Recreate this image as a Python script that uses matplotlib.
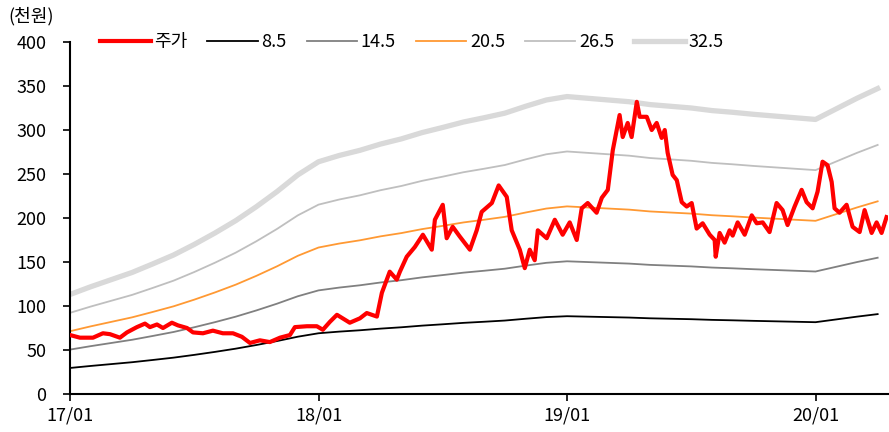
import numpy as np
import matplotlib.pyplot as plt

plt.rcParams['font.family'] = ['Noto Sans CJK KR', 'DejaVu Sans']

# months since 2017-01 (monthly forward EPS, 천원)
eps_month = np.arange(40)
eps = [3.48, 3.75, 4.00, 4.25, 4.55, 4.86, 5.23, 5.63, 6.06, 6.55,
       7.08, 7.66, 8.12, 8.34, 8.52, 8.74, 8.92, 9.14, 9.32, 9.51,
       9.66, 9.82, 10.06, 10.28, 10.40, 10.34, 10.28, 10.22, 10.12, 10.06,
       10.00, 9.91, 9.85, 9.78, 9.72, 9.66, 9.60, 9.97, 10.34, 10.68]

per_multiples = [8.5, 14.5, 20.5, 26.5, 32.5]
band_colors = ['#000000', '#808080', '#FF9933', '#BFBFBF', '#D9D9D9']
band_widths = [1.3, 1.3, 1.3, 1.3, 3.8]

# stock price (천원), time in months since 2017-01
price_t = [0.00, 0.48, 1.11, 1.59, 1.93, 2.41, 2.75, 3.23, 3.62, 3.86,
           4.20, 4.49, 4.92, 5.21, 5.65, 5.94, 6.42, 6.90, 7.38, 7.87,
           8.30, 8.69, 9.17, 9.65, 10.14, 10.62, 10.86, 11.44, 11.92, 12.21,
           12.55, 12.89, 13.51, 14.00, 14.33, 14.82, 15.06, 15.44, 15.78, 15.93,
           16.26, 16.65, 17.04, 17.47, 17.62, 18.00, 18.19, 18.48, 18.82, 19.31,
           19.64, 19.88, 20.37, 20.70, 21.09, 21.33, 21.72, 21.96, 22.20, 22.44,
           22.59, 23.02, 23.41, 23.79, 24.13, 24.47, 24.71, 25.00, 25.43, 25.68,
           25.97, 26.21, 26.54, 26.69, 26.93, 27.12, 27.37, 27.51, 27.85, 28.09,
           28.33, 28.57, 28.72, 28.86, 29.10, 29.30, 29.54, 29.78, 30.02, 30.26,
           30.55, 30.89, 31.13, 31.18, 31.37, 31.61, 31.85, 32.00, 32.24, 32.58,
           32.92, 33.16, 33.45, 33.78, 34.12, 34.41, 34.65, 34.99, 35.33, 35.57,
           35.86, 36.10, 36.34, 36.58, 36.78, 36.92, 37.16, 37.50, 37.79, 38.13,
           38.37, 38.71, 38.95, 39.19, 39.43]
price = [67, 64, 64, 69, 68, 64, 70, 76, 80, 76,
         79, 75, 81, 78, 75, 70, 69, 72, 69, 69,
         65, 58, 61, 59, 64, 67, 76, 77, 77, 73,
         82, 90, 81, 86, 92, 88, 115, 139, 130, 139,
         156, 167, 181, 164, 198, 215, 177, 190, 179, 164,
         186, 207, 217, 237, 224, 186, 164, 143, 164, 152,
         186, 177, 198, 181, 195, 175, 211, 217, 206, 223,
         232, 277, 317, 292, 308, 292, 332, 315, 315, 300,
         308, 291, 300, 274, 249, 243, 218, 213, 217, 188,
         194, 181, 175, 156, 183, 172, 186, 180, 195, 181,
         203, 194, 195, 184, 217, 209, 192, 213, 232, 218,
         211, 230, 264, 260, 241, 211, 206, 215, 190, 184,
         209, 183, 195, 183, 201]

x_ticks = [0, 12, 24, 36]
x_labels = ['17/01', '18/01', '19/01', '20/01']

fig = plt.figure(figsize=(8.89, 4.32), dpi=100)
ax = fig.add_axes([70 / 889, 38 / 432, 818 / 889, 352 / 432])

lines = []
l, = ax.plot(price_t, price, color='#FF0000', lw=3.0, zorder=5, label='주가')
lines.append(l)
for m, c, w in zip(per_multiples, band_colors, band_widths):
    l, = ax.plot(eps_month, np.array(eps) * m, color=c, lw=w, label=f'{m}')
    lines.append(l)

ax.set_xlim(0, 39.5)
ax.set_ylim(0, 400)
ax.set_yticks(range(0, 401, 50))
ax.set_xticks(x_ticks)
ax.set_xticklabels(x_labels)
ax.tick_params(axis='both', labelsize=13, direction='out', length=5, width=1.2)
ax.tick_params(axis='y', pad=12)
ax.tick_params(axis='x', pad=4)
for s in ['top', 'right']:
    ax.spines[s].set_visible(False)
for s in ['left', 'bottom']:
    ax.spines[s].set_linewidth(1.5)

fig.text(8 / 889, 1 - 16 / 432, '(천원)', fontsize=13, va='center', ha='left')

fig.legend(handles=lines, loc='center left', bbox_to_anchor=(100 / 889, 1 - 42 / 432),
           ncol=6, frameon=False, fontsize=13, handlelength=2.8, handletextpad=0.2,
           columnspacing=1.1, borderpad=0, borderaxespad=0)

fig.savefig('out.png', dpi=100)
